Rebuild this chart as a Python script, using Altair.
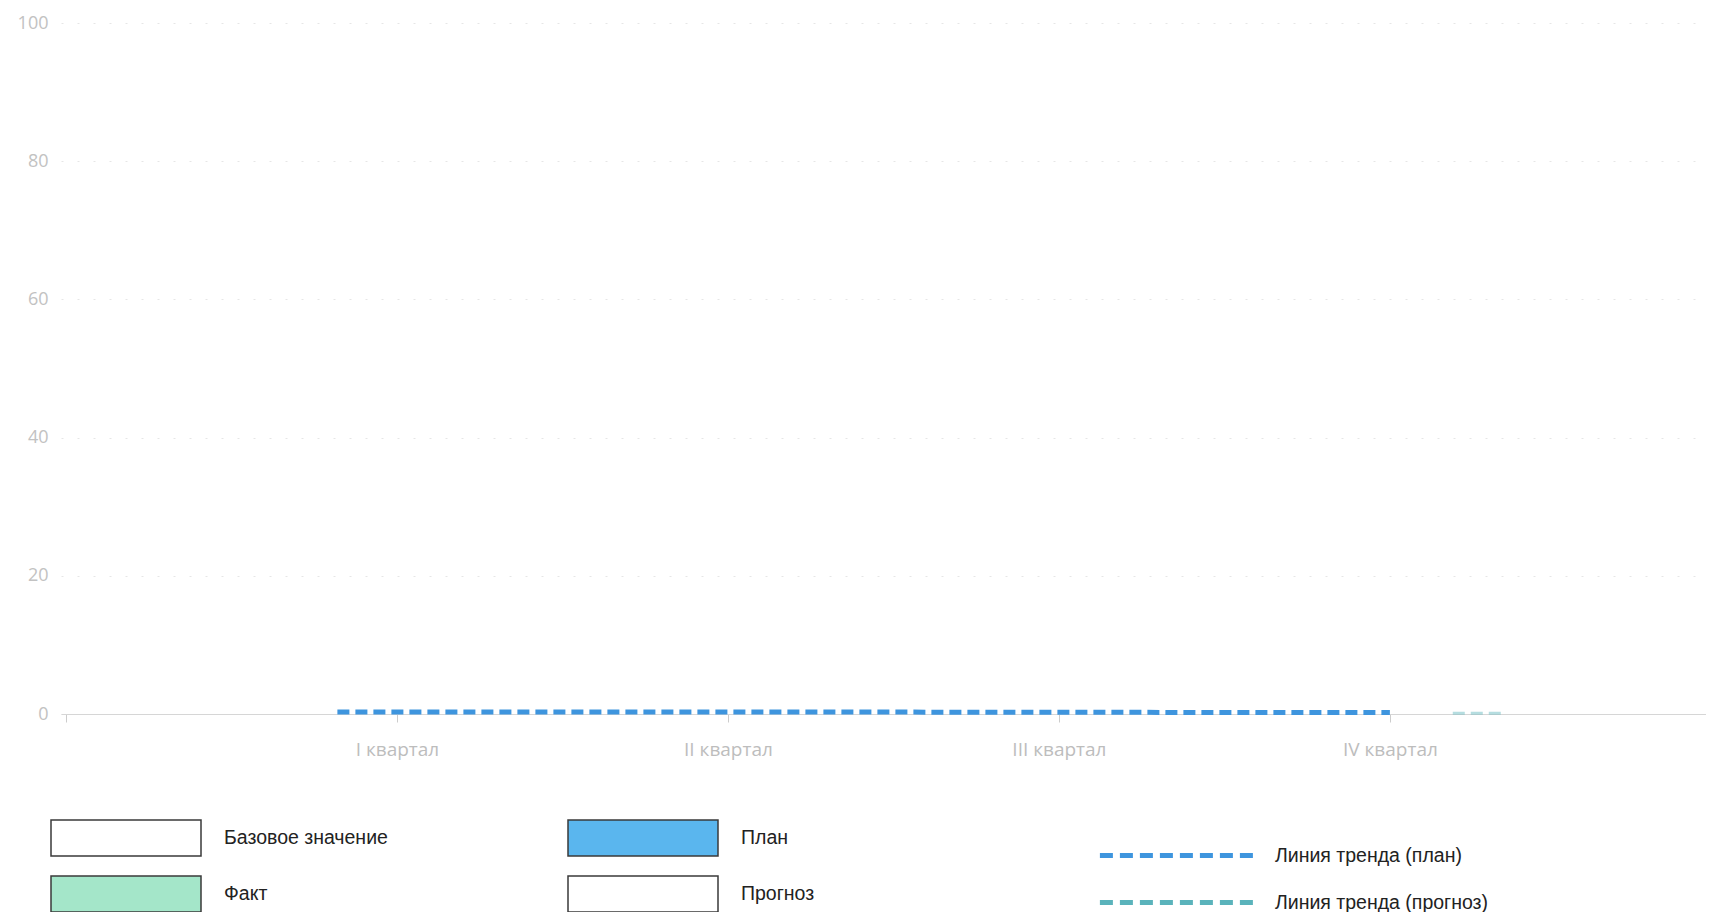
import altair as alt
import pandas as pd

# ---- data ----
quarters = [1, 2, 3, 4]
quarter_labels = ["I квартал", "II квартал", "III квартал", "IV квартал"]

bar_series = ["Базовое значение", "Факт", "План", "Прогноз"]
bar_colors = ["#ffffff", "#a4e6c9", "#5ab6ee", "#ffffff"]
base_values = [0, 0, 0, 0]
fact_values = [0, 0, 0, 0]
plan_values = [0, 0, 0, 0]
forecast_values = [0, 0, 0, 0]

trend_series = ["Линия тренда (план)", "Линия тренда (прогноз)"]
trend_colors = ["#3e95de", "#5ab3bb"]
plan_trend_x = [0.82, 1, 2, 3, 4]
plan_trend_y = [0.3, 0.3, 0.3, 0.25, 0.2]
forecast_trend_x = [4.19, 4.35]
forecast_trend_y = [0.1, 0.1]

y_ticks = [0, 20, 40, 60, 80, 100]

# ---- tables ----
bars = pd.DataFrame({
    "quarter": quarters * 4,
    "series": sum([[s] * 4 for s in bar_series], []),
    "value": base_values + fact_values + plan_values + forecast_values,
})
plan_trend = pd.DataFrame({"x": plan_trend_x, "y": plan_trend_y, "series": trend_series[0]})
fc_trend = pd.DataFrame({"x": forecast_trend_x, "y": forecast_trend_y, "series": trend_series[1]})

label_array = "['', " + ", ".join("'" + q + "'" for q in quarter_labels) + "]"

x_scale = alt.Scale(domain=[0, 4.94], nice=False, zero=False)
y_scale = alt.Scale(domain=[0, 100], nice=False)

x_axis = alt.Axis(
    values=[0] + quarters, labelExpr=label_array + "[datum.value]", title=None,
    grid=False, domainColor="#d6d6d6", tickColor="#cccccc", tickSize=8,
    labelColor="#bdbdbd", labelFontSize=19, labelFont="Open Sans", labelPadding=18,
)
y_axis = alt.Axis(
    values=y_ticks, title=None, grid=True, gridColor="#e6e6e6", gridDash=[2, 14],
    domain=False, ticks=False, labelColor="#c2c2c2", labelFontSize=18,
    labelFont="Open Sans", labelPadding=13,
)

legend_font = "Liberation Sans"

bar_layer = alt.Chart(bars).mark_bar(size=20).encode(
    x=alt.X("quarter:Q", scale=x_scale, axis=x_axis),
    y=alt.Y("value:Q", scale=y_scale, axis=y_axis),
    fill=alt.Fill(
        "series:N",
        scale=alt.Scale(domain=bar_series, range=bar_colors),
        legend=alt.Legend(
            title=None, orient="none", legendX=44, legendY=794, columns=2,
            columnPadding=177, rowPadding=14,
            symbolType="M-3.75,-0.9H3.75V0.9H-3.75Z", symbolSize=1600,
            symbolStrokeColor="#3a3a3a", symbolStrokeWidth=1.5, symbolOpacity=1,
            labelOffset=77, labelFont=legend_font, labelFontSize=19.5,
            labelColor="#222222", labelLimit=400,
        ),
    ),
)

stroke_enc = alt.Stroke(
    "series:N",
    scale=alt.Scale(domain=trend_series, range=trend_colors),
    legend=alt.Legend(
        title=None, orient="none", legendX=1093, legendY=810, rowPadding=14,
        symbolType="M-3.83,0H3.83", symbolSize=1600, symbolStrokeWidth=5,
        symbolDash=[13, 7], symbolOpacity=1, labelOffset=76, labelFont=legend_font,
        labelFontSize=19.5, labelColor="#222222", labelLimit=400,
    ),
)

plan_line = alt.Chart(plan_trend).mark_line(strokeWidth=5, strokeDash=[12, 6]).encode(
    x=alt.X("x:Q", scale=x_scale),
    y=alt.Y("y:Q", scale=y_scale),
    stroke=stroke_enc,
)
fc_line = alt.Chart(fc_trend).mark_line(strokeWidth=3, strokeDash=[12, 6], strokeOpacity=0.45).encode(
    x=alt.X("x:Q", scale=x_scale),
    y=alt.Y("y:Q", scale=y_scale),
    stroke=stroke_enc,
)

chart = alt.layer(bar_layer, plan_line, fc_line).properties(
    width=1645, height=691,
    autosize=alt.AutoSizeParams(type="none"),
    padding={"left": 53, "top": 15, "right": 0, "bottom": 198},
).configure(background="#ffffff").configure_view(stroke=None)

chart.save("out.html", embed_options={"renderer": "svg", "actions": False})
